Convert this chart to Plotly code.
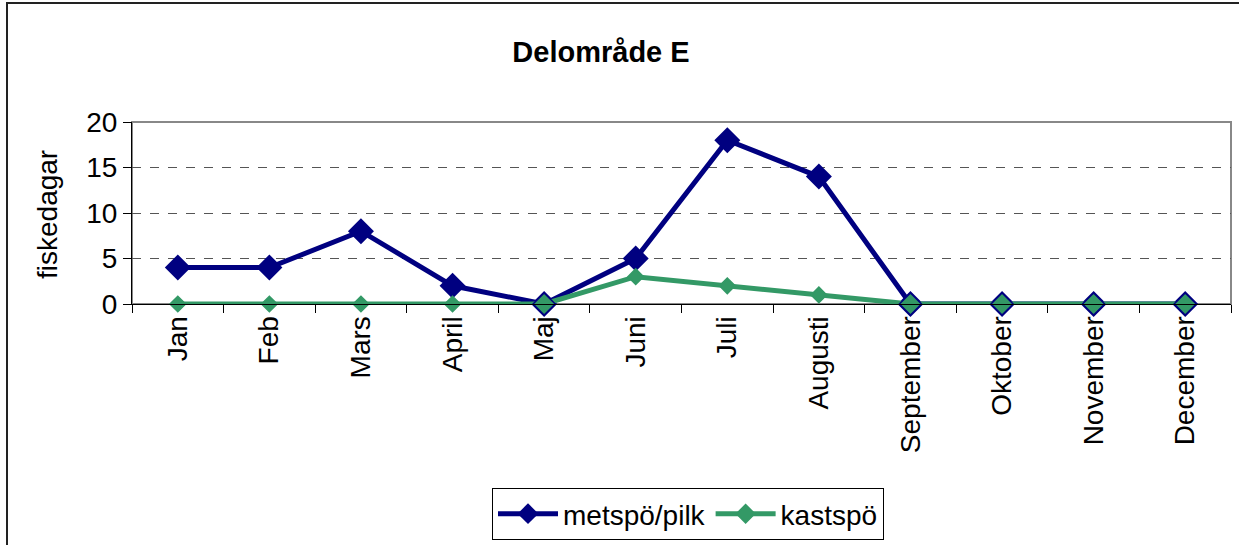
import plotly.graph_objects as go

months = ["Jan", "Feb", "Mars", "April", "Maj", "Juni", "Juli", "Augusti",
          "September", "Oktober", "November", "December"]
metspo_pilk = [4, 4, 8, 2, 0, 5, 18, 14, 0, 0, 0, 0]
kastspo = [0, 0, 0, 0, 0, 3, 2, 1, 0, 0, 0, 0]
y_ticks = [0, 5, 10, 15, 20]

FONT = "Liberation Sans, Arial, sans-serif"
NAVY = "#000080"
GREEN = "#339966"

# overlapping points: green marker drawn bigger with navy outline
overlap = [a == b for a, b in zip(metspo_pilk, kastspo)]
g_sizes = [17 if o else 12 for o in overlap]
g_lc = [NAVY if o else GREEN for o in overlap]

fig = go.Figure()
fig.add_trace(go.Scatter(
    x=months, y=metspo_pilk, name="metspö/pilk", mode="lines+markers",
    line=dict(color=NAVY, width=5),
    marker=dict(symbol="diamond", size=20, color=NAVY, opacity=1),
    cliponaxis=False))
fig.add_trace(go.Scatter(
    x=months, y=kastspo, name="kastspö", mode="lines+markers",
    line=dict(color=GREEN, width=5),
    marker=dict(symbol="diamond", size=g_sizes, color=GREEN, opacity=1,
                line=dict(color=g_lc, width=1.5)),
    cliponaxis=False))

L, R, T, B = 132, 8, 122, 241
W, H = 1239, 545
pw, ph = W - L - R, H - T - B

def px(x):
    return (x - L) / pw

def py(y):
    return (H - B - y) / ph

FS = 28

fig.update_layout(
    width=W, height=H,
    margin=dict(l=L, r=R, t=T, b=B, autoexpand=False),
    paper_bgcolor="white", plot_bgcolor="white",
    font=dict(family=FONT, size=FS, color="black"),
    title=dict(text="<b>Delområde E</b>", x=601 / W, xanchor="center",
               y=1 - 52 / H, yanchor="middle",
               font=dict(family=FONT, size=29, color="black")),
    showlegend=True,
    legend=dict(orientation="h", x=px(688), xanchor="center",
                y=py(488), yanchor="top",
                bordercolor="black", borderwidth=1, bgcolor="white",
                font=dict(family=FONT, size=FS, color="black"),
                tracegroupgap=0, itemwidth=60),
    xaxis=dict(type="category", range=[-0.5, 11.5], tickangle=-90,
               ticks="outside", tickson="boundaries", ticklen=8,
               tickcolor="black", showline=True, linecolor="black",
               linewidth=1, showgrid=False, zeroline=False,
               automargin=False,
               tickfont=dict(family=FONT, size=FS, color="black")),
    yaxis=dict(range=[0, 20], tickvals=y_ticks, ticks="outside", ticklen=8,
               tickcolor="black", showline=True, linecolor="black",
               linewidth=1, showgrid=True, gridcolor="#555555",
               griddash="dash", gridwidth=1, zeroline=False,
               automargin=False,
               tickfont=dict(family=FONT, size=FS, color="black")),
    shapes=[
        dict(type="rect", xref="paper", yref="paper", x0=0, x1=1, y0=0, y1=1,
             line=dict(color="#888888", width=2), layer="between"),
        dict(type="rect", xref="paper", yref="paper",
             x0=px(7), x1=px(W + 20), y0=py(H + 20), y1=py(3),
             line=dict(color="#222222", width=2), layer="above"),
    ],
    annotations=[
        dict(text="fiskedagar", textangle=-90, xref="paper", yref="paper",
             x=px(47), y=py(215), xanchor="center", yanchor="middle",
             showarrow=False, font=dict(family=FONT, size=FS, color="black")),
    ],
)

fig.write_html("out.html", config={"displayModeBar": False},
               post_script="document.body.style.margin='0';"
                           "document.body.style.overflow='hidden';")
